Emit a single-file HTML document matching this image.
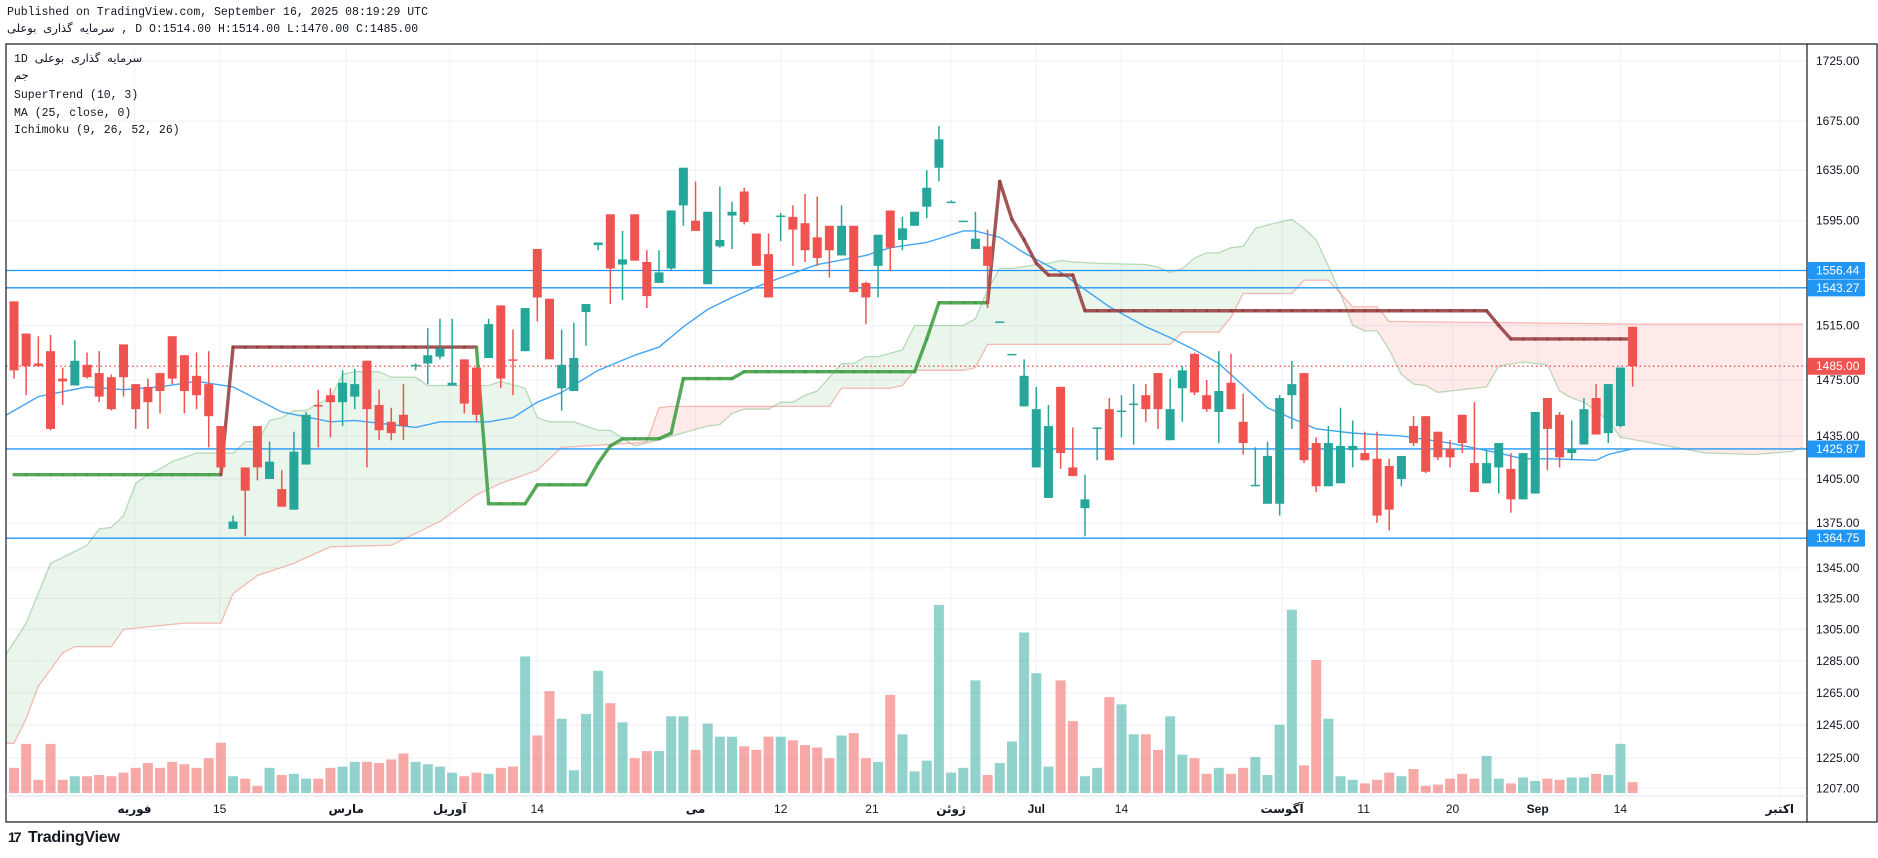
<!DOCTYPE html>
<html><head><meta charset="utf-8">
<style>
body{margin:0;width:1878px;height:858px;overflow:hidden;background:#fff;font-family:"Liberation Sans","DejaVu Sans",sans-serif}
.t{position:absolute;white-space:nowrap;color:#131722;z-index:2}
.mono{font-family:"Liberation Mono","DejaVu Sans",monospace;font-size:11.5px;line-height:14px}
svg{position:absolute;left:0;top:0;z-index:1}
</style></head>
<body>
<div class="t mono" style="left:7px;top:6px">Published on TradingView.com, September 16, 2025 08:19:29 UTC</div>
<div class="t mono" style="left:7px;top:23px"><span dir="rtl">سرمایه گذاری بوعلی</span> , D O:1514.00 H:1514.00 L:1470.00 C:1485.00</div>
<div class="t mono" style="left:14px;top:53px">1D <span dir="rtl">سرمایه گذاری بوعلی</span></div>
<div class="t mono" style="left:14px;top:70px">جم</div>
<div class="t mono" style="left:14px;top:89px">SuperTrend (10, 3)</div>
<div class="t mono" style="left:14px;top:107px">MA (25, close, 0)</div>
<div class="t mono" style="left:14px;top:124px">Ichimoku (9, 26, 52, 26)</div>
<div class="t" style="left:8px;top:829px;font-size:16px;font-weight:bold;letter-spacing:-0.2px"><span style="display:inline-block;width:20px;font-size:14px;letter-spacing:-2px">17</span>TradingView</div>

<svg id="chart" width="1878" height="858" viewBox="0 0 1878 858"></svg>

<script>
// ---------- data ----------
const opens  = [1533,1509,1487,1496,1476,1471,1486,1480,1477,1501,1472,1470,1480,1507,1493,1478,1472,1442,1371,1413,1442,1405,1398,1384,1415,1457,1464,1459,1463,1489,1457,1445,1450,1485,1487,1492,1471,1490,1484,1491,1530,1490,1496,1573,1535,1469,1467,1525,1576,1600,1561,1600,1563,1547,1558,1607,1595,1546,1575,1599,1618,1585,1569,1599,1598,1593,1582,1591,1568,1591,1547,1560,1603,1580,1591,1606,1637,1609,1594,1573,1575,1517,1493,1456,1413,1392,1470,1413,1385,1440,1454,1452,1457,1464,1480,1432,1469,1494,1464,1452,1473,1445,1400,1388,1388,1464,1480,1430,1400,1402,1425,1423,1419,1414,1405,1442,1449,1438,1426,1450,1416,1402,1413,1412,1391,1395,1462,1450,1423,1429,1462,1437,1442,1514];
const highs  = [1533,1509,1507,1508,1484,1504,1495,1496,1479,1501,1472,1476,1480,1507,1493,1495,1496,1442,1380,1413,1442,1431,1411,1438,1452,1468,1469,1482,1483,1489,1468,1455,1472,1487,1513,1520,1520,1490,1484,1520,1530,1512,1528,1573,1535,1512,1517,1531,1578,1600,1587,1600,1572,1572,1603,1637,1626,1602,1622,1610,1621,1585,1585,1601,1607,1616,1614,1591,1607,1591,1548,1584,1603,1598,1602,1635,1671,1611,1595,1602,1588,1518,1494,1490,1470,1457,1470,1441,1408,1441,1462,1464,1472,1472,1480,1476,1485,1495,1475,1496,1494,1465,1427,1431,1464,1489,1480,1434,1442,1455,1446,1438,1438,1419,1421,1449,1449,1438,1432,1450,1459,1425,1430,1423,1423,1452,1462,1452,1446,1462,1472,1472,1484,1514];
const lows   = [1476,1464,1485,1439,1457,1471,1476,1459,1453,1463,1440,1440,1451,1472,1451,1454,1427,1409,1371,1366,1404,1405,1386,1384,1415,1427,1434,1442,1454,1413,1432,1432,1432,1482,1472,1490,1471,1451,1445,1491,1469,1464,1496,1518,1490,1453,1467,1500,1572,1531,1534,1564,1528,1547,1557,1591,1587,1546,1574,1573,1592,1560,1536,1579,1560,1563,1560,1551,1568,1540,1516,1536,1556,1572,1591,1597,1626,1609,1594,1573,1528,1517,1493,1456,1413,1392,1412,1407,1366,1418,1418,1434,1429,1445,1440,1432,1445,1464,1452,1430,1454,1422,1400,1388,1380,1440,1416,1396,1400,1402,1413,1418,1375,1370,1400,1428,1409,1418,1413,1423,1396,1402,1395,1382,1391,1395,1411,1413,1418,1429,1436,1430,1441,1470];
const closes = [1482,1485,1485,1440,1474,1489,1477,1463,1454,1477,1454,1459,1467,1476,1467,1464,1449,1413,1376,1397,1413,1417,1386,1424,1450,1456,1459,1473,1472,1454,1439,1437,1442,1486,1493,1498,1473,1458,1450,1516,1476,1489,1528,1536,1490,1486,1491,1531,1578,1558,1565,1564,1537,1555,1603,1637,1587,1602,1580,1602,1594,1560,1536,1599,1588,1572,1566,1572,1591,1540,1536,1584,1574,1589,1602,1621,1660,1610,1595,1581,1560,1518,1494,1478,1454,1442,1423,1407,1391,1441,1418,1453,1458,1454,1454,1454,1482,1466,1454,1467,1454,1430,1401,1421,1462,1472,1418,1400,1430,1428,1428,1418,1380,1384,1421,1430,1410,1420,1420,1430,1396,1416,1430,1391,1423,1452,1440,1420,1426,1454,1436,1472,1484,1485];
const volumes = [21,41,11,41,11,14,14,15,14,17,21,25,21,26,24,21,29,42,14,12,6,21,15,16,12,12,21,22,26,26,25,28,33,26,24,22,17,14,17,16,21,22,114,48,85,62,19,66,102,75,59,29,35,35,64,64,36,58,47,47,39,36,47,47,44,40,38,29,48,50,29,26,82,49,18,27,157,17,21,94,15,25,43,134,100,22,94,60,14,21,80,74,49,49,36,64,32,29,16,21,16,21,30,15,57,153,23,111,62,14,11,8,11,17,14,20,6,7,12,16,12,31,12,8,13,10,12,11,13,13,16,15,41,9];
const stValues = [1408,1408,1408,1408,1408,1408,1408,1408,1408,1408,1408,1408,1408,1408,1408,1408,1408,1408,
 1499,1499,1499,1499,1499,1499,1499,1499,1499,1499,1499,1499,1499,1499,1499,1499,1499,1499,1499,1499,1499,
 1388,1388,1388,1388,1401,1401,1401,1401,1401,1416,1428,1433,1433,1433,1433,1437,1476,1476,1476,1476,1476,
 1481,1481,1481,1481,1481,1481,1481,1481,1481,1481,1481,1481,1481,1481,1481,1505,1532,1532,1532,1532,1532,
 1626,1596,1580,1562,1553,1553,1553,
 1526,1526,1526,1526,1526,1526,1526,1526,1526,1526,1526,1526,1526,1526,1526,1526,1526,1526,1526,1526,1526,1526,1526,1526,1526,1526,1526,1526,1526,1526,1526,1526,1526,1526,
 1515,1505,1505,1505,1505,1505,1505,1505,1505,1505,1505,1505];
const stDir = [1,1,1,1,1,1,1,1,1,1,1,1,1,1,1,1,1,1,
 -1,-1,-1,-1,-1,-1,-1,-1,-1,-1,-1,-1,-1,-1,-1,-1,-1,-1,-1,-1,-1,
 1,1,1,1,1,1,1,1,1,1,1,1,1,1,1,1,1,1,1,1,1,1,1,1,1,1,1,1,1,1,1,1,1,1,1,1,1,1,1,1,1,1,
 -1,-1,-1,-1,-1,-1,-1,-1,-1,-1,-1,-1,-1,-1,-1,-1,-1,-1,-1,-1,-1,-1,-1,-1,-1,-1,-1,-1,-1,-1,-1,-1,-1,-1,-1,-1,-1,-1,-1,-1,-1,-1,-1,-1,-1,-1,-1,-1,-1,-1,-1,-1,-1];
const maIdx = [0,3,7,10,13,16,19,23,27,29,34,36,40,42,44,46,49,52,54,56,58,60,62,64,67,71,73,76,79,80,82,84,87,91,94,96,98,100,104,108,111,115,119,123,125,127,131,132,134];
const maVal = [1448,1463,1470,1468,1470,1474,1470,1452,1445,1446,1441,1445,1445,1448,1459,1466,1482,1493,1499,1514,1527,1536,1544,1551,1561,1568,1574,1578,1587,1587,1582,1570,1555,1529,1514,1506,1497,1487,1455,1440,1437,1435,1430,1423,1419,1419,1418,1422,1426];
const spanAIdx = [0,2,4,6,7,8,9,10,11,12,13,14,15,16,19,20,21,22,23,24,25,26,27,28,29,31,32,34,35,40,41,43,44,45,47,49,50,52,53,58,59,60,61,63,64,65,66,67,69,70,71,72,74,75,79,80,81,82,83,85,86,87,88,90,94,95,96,97,98,99,100,101,102,103,105,106,107,108,109,110,111,112,113,114,115,116,117,118,120,122,123,125,127,128,129,130,132,133,135,140,144,147,148];
const spanAVal = [1285,1309,1348,1356,1360,1371,1372,1380,1402,1408,1412,1417,1420,1423,1423,1431,1431,1446,1448,1453,1453,1458,1462,1479,1481,1481,1477,1477,1471,1471,1474,1469,1448,1445,1445,1439,1439,1428,1430,1442,1443,1451,1454,1454,1459,1459,1464,1467,1487,1487,1492,1492,1497,1515,1515,1520,1542,1558,1558,1561,1562,1564,1563,1562,1561,1559,1555,1558,1566,1570,1570,1574,1575,1589,1594,1596,1589,1580,1560,1539,1515,1511,1511,1497,1479,1472,1471,1466,1468,1470,1485,1488,1486,1467,1462,1459,1446,1434,1431,1423,1422,1424,1427];
const spanBIdx = [0,1,2,3,5,6,9,10,15,18,19,21,24,27,32,36,39,41,44,46,52,53,54,55,68,69,73,74,75,79,80,81,96,97,100,101,102,106,107,109,111,113,114,135,148];
const spanBVal = [1234,1234,1249,1269,1290,1294,1294,1305,1309,1309,1328,1340,1348,1359,1360,1376,1394,1402,1411,1427,1430,1431,1455,1456,1456,1469,1469,1471,1482,1482,1484,1501,1501,1510,1510,1521,1539,1539,1549,1549,1529,1529,1518,1516,1516];
const hLinePrices = [1556.44,1543.27,1425.87,1364.75];
const lastPrice = 1485.00;
const priceTicks = [1725,1675,1635,1595,1515,1475,1435,1405,1375,1345,1325,1305,1285,1265,1245,1225,1207];
const timeIdx = [10.9,17.9,28.3,36.8,44,57,64,71.5,78,85,92,105.2,111.9,119.2,126.2,133,146.1];
const timeLbl = ['فوریه','15','مارس','آوریل','14','می','12','21','ژوئن','Jul','14','آگوست','11','20','Sep','14','اکتبر'];
const timeBold = [1,0,1,1,0,1,0,0,1,1,0,1,0,0,1,0,1];

// ---------- scales ----------
const PL=6, PR=1807, PT=44, PB=796;
function xS(i){ return 14 + (i-1)*12.17; }
function yS(p){ return 61.1 + 2036.6*Math.log(1725/p); }
function yV(v){ return 793 - v*1.198; }

const NS='http://www.w3.org/2000/svg';
const svg=document.getElementById('chart');
function mk(tag, attrs, parent){
  const e=document.createElementNS(NS,tag);
  for(const k in attrs) e.setAttribute(k, attrs[k]);
  (parent||svg).appendChild(e);
  return e;
}
const defs=mk('defs',{});
const cp=mk('clipPath',{id:'plotclip'},defs);
mk('rect',{x:PL,y:PT,width:PR-PL,height:PB-PT},cp);

// grid
const grid=mk('g',{});


priceTicks.forEach(p=>{
  const l=mk('line',{x1:PL,x2:PR,y1:yS(p),y2:yS(p),stroke:'#f0f3fa','stroke-width':1.2},grid);
  
  
});
timeIdx.forEach(t=>{
  const l=mk('line',{x1:xS(t),x2:xS(t),y1:PT,y2:PB,stroke:'#f0f3fa','stroke-width':1.2},grid);
  
  
});

const plot=mk('g',{'clip-path':'url(#plotclip)'});



// volume
const volG=mk('g',{},plot);


volumes.forEach((v,k)=>{
  const up=closes[k]>=opens[k];
  const r=mk('rect',{x:xS(k+1)-5,y:yV(v),width:10,height:793-yV(v),fill:up?'rgba(38,166,154,0.5)':'rgba(239,83,80,0.5)'},volG);
  
  
});

// cloud
function interp(idx,val,i){
  if(i<=idx[0]) return val[0];
  for(let k=1;k<idx.length;k++){ if(i<=idx[k]){ const t=(i-idx[k-1])/(idx[k]-idx[k-1]); return val[k-1]+t*(val[k]-val[k-1]); } }
  return val[val.length-1];
}
const cloudG=mk('g',{},plot);


for(let i=0;i<148;i++){
  const a0=yS(interp(spanAIdx,spanAVal,i)), a1=yS(interp(spanAIdx,spanAVal,i+1));
  const b0=yS(interp(spanBIdx,spanBVal,i)), b1=yS(interp(spanBIdx,spanBVal,i+1));
  const x0=xS(i), x1=xS(i+1);
  const d0=b0-a0, d1=b1-a1; // >0 means A above (green)
  function quad(xa,xb,ya0,ya1,yb0,yb1,green){
    const q=mk('polygon',{points:`${xa},${ya0} ${xb},${ya1} ${xb},${yb1} ${xa},${yb0}`,fill:green?'rgba(67,160,71,0.11)':'rgba(244,67,54,0.11)'},cloudG);
    
    
  }
  if(d0*d1>=0){ quad(x0,x1,a0,a1,b0,b1,(d0+d1)>=0); }
  else{
    const t=d0/(d0-d1), xc=x0+t*(x1-x0), yc=a0+t*(a1-a0);
    quad(x0,xc,a0,yc,b0,yc,d0>0); quad(xc,x1,yc,a1,yc,b1,d1>0);
  }
}
const spanA=mk('polyline',{points:spanAIdx.map((i,k)=>xS(i)+','+yS(spanAVal[k])).join(' '),fill:'none',stroke:'rgba(67,160,71,0.35)','stroke-width':1.3},plot);


const spanB=mk('polyline',{points:spanBIdx.map((i,k)=>xS(i)+','+yS(spanBVal[k])).join(' '),fill:'none',stroke:'rgba(244,67,54,0.35)','stroke-width':1.3},plot);



// horizontal lines
hLinePrices.forEach(p=>{
  const l=mk('line',{x1:PL,x2:PR,y1:yS(p),y2:yS(p),stroke:'#2196f3','stroke-width':1.3},plot);
  
  
});
const lp=mk('line',{x1:PL,x2:PR,y1:yS(lastPrice),y2:yS(lastPrice),stroke:'#ef5350','stroke-width':1.3,'stroke-dasharray':'1.5 3'},plot);



// MA
const ma=mk('polyline',{points:maIdx.map((i,k)=>xS(i)+','+yS(maVal[k])).join(' '),fill:'none',stroke:'#42a5f5','stroke-width':1.4},plot);



// supertrend
const stG=mk('g',{},plot);


for(let k=1;k<stValues.length;k++){
  const col=stDir[k]>0?'rgba(67,160,71,0.9)':'rgba(150,62,62,0.88)';
  const s=mk('line',{x1:xS(k),y1:yS(stValues[k-1]),x2:xS(k+1),y2:yS(stValues[k]),stroke:col,'stroke-width':3.4,'stroke-linecap':'round'},stG);
  
  
}

// candles
const cG=mk('g',{},plot);


opens.forEach((o,k)=>{
  const c=closes[k], up=c>=o, col=up?'#26a69a':'#ef5350', x=xS(k+1);
  const g=mk('g',{},cG);
  
  
  mk('line',{x1:x,x2:x,y1:yS(highs[k]),y2:yS(lows[k]),stroke:col,'stroke-width':1.5},g);
  const yt=yS(Math.max(o,c)), yb=yS(Math.min(o,c));
  mk('rect',{x:x-4.5,y:yt,width:9,height:Math.max(1.5,yb-yt),fill:col},g);
});

// frame
const fr=mk('g',{});


mk('rect',{x:PL,y:PT,width:1878-PL-1,height:822-PT,fill:'none',stroke:'#131722','stroke-width':1.2},fr);
mk('line',{x1:PR,x2:PR,y1:PT,y2:822,stroke:'#131722','stroke-width':1.2},fr);
mk('line',{x1:PL,x2:PR,y1:PB,y2:PB,stroke:'#e0e3eb','stroke-width':1},fr);

// price axis
const ax=mk('g',{'font-family':'Liberation Sans, sans-serif','font-size':12,fill:'#131722'});


priceTicks.forEach(p=>{
  const t=mk('text',{x:1816,y:yS(p)+4},ax);
  t.textContent=p.toFixed(2);
  
  
});
function priceBox(p,col,name){
  const y=yS(p);
  const r=mk('rect',{x:1808,y:y-8.5,width:57,height:17,fill:col,rx:1},ax);
  
  
  const t=mk('text',{x:1816,y:y+4,fill:'#fff'},ax);
  t.textContent=p.toFixed(2);
  
  
}
hLinePrices.forEach(p=>priceBox(p,'#2196f3','level-price-label'));
priceBox(lastPrice,'#ef5350','last-price-label');

// time axis
const tx=mk('g',{'font-family':'Liberation Sans, DejaVu Sans, sans-serif','font-size':12,fill:'#131722','text-anchor':'middle'});


timeIdx.forEach((t,k)=>{
  const e=mk('text',{x:xS(t),y:813,'font-weight':timeBold[k]?'bold':'normal'},tx);
  e.textContent=timeLbl[k];
  
  
});
</script>
</body></html>
